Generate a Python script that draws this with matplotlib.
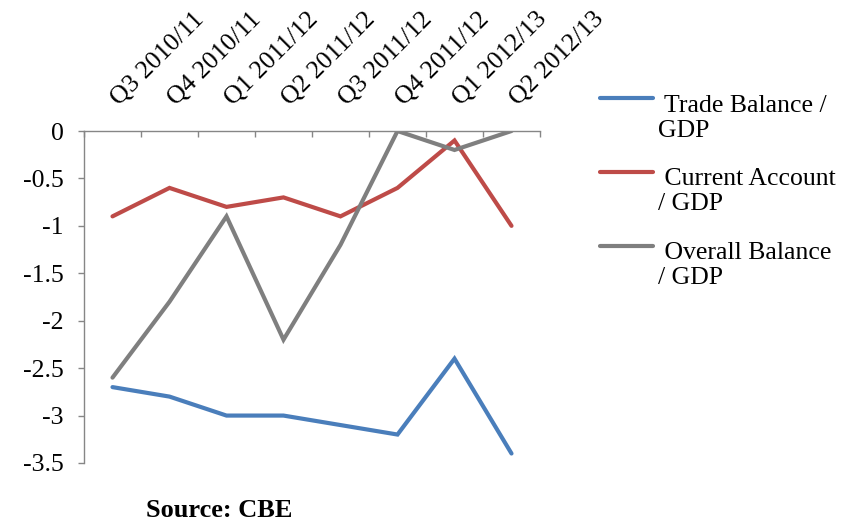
import matplotlib
matplotlib.use("Agg")
import matplotlib.pyplot as plt
from matplotlib.lines import Line2D
import numpy as np

plt.rcParams['font.family'] = ['Liberation Serif', 'DejaVu Serif']

quarters = ["Q3 2010/11", "Q4 2010/11", "Q1 2011/12", "Q2 2011/12",
            "Q3 2011/12", "Q4 2011/12", "Q1 2012/13", "Q2 2012/13"]
trade_balance = [-2.7, -2.8, -3.0, -3.0, -3.1, -3.2, -2.4, -3.4]
current_account = [-0.9, -0.6, -0.8, -0.7, -0.9, -0.6, -0.1, -1.0]
overall_balance = [-2.6, -1.8, -0.9, -2.2, -1.2, 0.0, -0.2, 0.0]
y_ticks = [0, -0.5, -1, -1.5, -2, -2.5, -3, -3.5]
y_tick_labels = ["0", "-0.5", "-1", "-1.5", "-2", "-2.5", "-3", "-3.5"]

series = [
    (" Trade Balance /\nGDP", trade_balance, "#4A7EBB"),
    (" Current Account\n/ GDP", current_account, "#BE4B48"),
    (" Overall Balance\n/ GDP", overall_balance, "#7F7F7F"),
]

FS = 18.5
W, H = 856, 522
fig = plt.figure(figsize=(W / 100, H / 100), dpi=100)
ax = fig.add_axes([84 / W, 1 - 463 / H, (540 - 84) / W, (463 - 131) / H])

x = np.arange(len(quarters))
for name, vals, col in series:
    ax.plot(x, vals, color=col, lw=3.0, solid_capstyle="round",
            solid_joinstyle="miter")

ax.set_xlim(-0.5, len(quarters) - 0.5)
ax.set_ylim(-3.5, 0)

axis_col = "#868686"
for s in ["right", "bottom"]:
    ax.spines[s].set_visible(False)
for s in ["left", "top"]:
    ax.spines[s].set_color(axis_col)
    ax.spines[s].set_linewidth(1.0)

ax.set_yticks(y_ticks)
ax.set_yticklabels(y_tick_labels, fontsize=FS)
ax.tick_params(axis="y", direction="out", length=4.5, color=axis_col,
               width=1.0, pad=10)

# category boundaries as tick marks on the top axis, labels at centres
ax.xaxis.tick_top()
ax.set_xticks(np.arange(-0.5, len(quarters)))
ax.set_xticklabels([])
ax.tick_params(axis="x", direction="in", length=4.5, color=axis_col, width=1.0)
for i, q in enumerate(quarters):
    ax.annotate(q, xy=(i, 1), xycoords=("data", "axes fraction"),
                xytext=(5, 18), textcoords="offset points",
                rotation=45, rotation_mode="anchor", ha="left", va="baseline",
                fontsize=FS, annotation_clip=False)

# legend, handle aligned with the first line of each label
leg_handle_y = [98, 172, 246]
leg_last_baseline = [137, 210, 284]
for (name, _, col), hy, ty in zip(series, leg_handle_y, leg_last_baseline):
    fig.add_artist(Line2D([600 / W, 653 / W], [1 - hy / H, 1 - hy / H],
                          color=col, lw=3.0, solid_capstyle="round"))
    fig.text(658 / W, 1 - ty / H, name, fontsize=FS, ha="left",
             va="baseline", linespacing=1.2)

fig.text(146 / W, 1 - 517 / H, "Source: CBE", fontsize=19, fontweight="bold",
         ha="left", va="baseline")

fig.savefig("out.png", dpi=100)
